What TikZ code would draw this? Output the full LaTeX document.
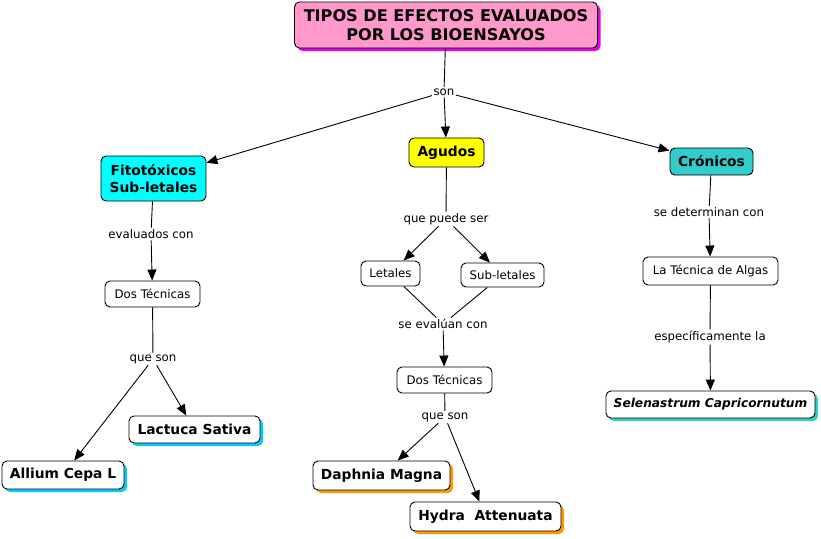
\documentclass[tikz,border=0pt]{standalone}
\usepackage{fontspec}
\setmainfont{DejaVu Sans}
\usetikzlibrary{arrows.meta,shadows}
\definecolor{pinkc}{RGB}{255,153,204}
\definecolor{magc}{RGB}{230,0,230}
\definecolor{yelc}{RGB}{255,255,0}
\definecolor{cyanc}{RGB}{0,255,255}
\definecolor{tealc}{RGB}{51,204,204}
\definecolor{skyc}{RGB}{0,204,255}
\definecolor{orc}{RGB}{255,153,0}
\tikzset{
  concept/.style={draw, rounded corners=5pt, line width=0.9pt, inner sep=0pt, align=center, fill=white},
  bigc/.style={concept, font=\fontsize{13.8}{16.5}\selectfont\bfseries},
  smallc/.style={concept, font=\fontsize{11.8}{14}\selectfont},
  link/.style={inner sep=1.5pt, font=\fontsize{11.8}{14}\selectfont},
  arr/.style={-{Triangle[length=11pt,width=9pt]}, line width=0.9pt},
  ln/.style={line width=0.9pt},
  shd/.style={general shadow={fill=#1, shadow xshift=3pt, shadow yshift=-3pt}}
}
\begin{document}
\begin{tikzpicture}[x=1pt,y=-1pt]
\useasboundingbox (0,0) rectangle (821,538);
% concepts
\node[concept, fill=pinkc, shd=magc, minimum width=303pt, minimum height=46pt, font=\fontsize{16.1}{19.5}\selectfont\bfseries] (title) at (446,25) {TIPOS DE EFECTOS EVALUADOS\\POR LOS BIOENSAYOS};
\node[bigc, fill=yelc, minimum width=75pt, minimum height=29pt] (agudos) at (446.5,152.5) {Agudos};
\node[bigc, fill=cyanc, minimum width=105pt, minimum height=45pt] (fito) at (153.5,178.5) {Fitotóxicos\\Sub-letales};
\node[bigc, fill=tealc, minimum width=83pt, minimum height=27pt] (cron) at (711.5,161.5) {Crónicos};
\node[smallc, minimum width=95pt, minimum height=26pt] (dosA) at (152.5,294) {Dos Técnicas};
\node[bigc, shd=skyc, minimum width=131pt, minimum height=27pt] (lact) at (194.5,429.5) {Lactuca Sativa};
\node[bigc, shd=skyc, minimum width=122pt, minimum height=28pt] (allium) at (63,475) {Allium Cepa L};
\node[smallc, minimum width=59pt, minimum height=25pt] (let) at (390.5,273.5) {Letales};
\node[smallc, minimum width=83pt, minimum height=24pt] (sublet) at (502.5,275) {Sub-letales};
\node[smallc, minimum width=95pt, minimum height=26pt] (dosB) at (444.5,380) {Dos Técnicas};
\node[bigc, shd=orc, minimum width=137pt, minimum height=29pt] (daph) at (381.5,475.5) {Daphnia Magna};
\node[bigc, shd=orc, minimum width=151pt, minimum height=29pt] (hydra) at (485.5,516.5) {Hydra\ \ Attenuata};
\node[smallc, minimum width=135pt, minimum height=28pt] (algas) at (710.5,271) {La Técnica de Algas};
\node[bigc, shd=tealc, minimum width=209pt, minimum height=27pt, font=\fontsize{12.2}{15}\selectfont\bfseries\itshape] (selen) at (710.5,404.5) {Selenastrum Capricornutum};
% link labels
\node[link] (son) at (444,92) {son};
\node[link] (evc) at (151,234) {evaluados con};
\node[link] (qsA) at (153,359) {que son};
\node[link] (qps) at (446,219) {que puede ser};
\node[link] (sev) at (443,324) {se evalúan con};
\node[link] (qsB) at (445,417) {que son};
\node[link] (sdc) at (709,212) {se determinan con};
\node[link] (esp) at (710,337) {específicamente la};
% connectors
\draw[ln] (title) -- (son);
\draw[arr] (son) -- (fito);
\draw[arr] (son) -- (agudos);
\draw[arr] (son) -- (cron);
\draw[ln] (fito) -- (evc);
\draw[arr] (evc) -- (dosA);
\draw[ln] (dosA) -- (qsA);
\draw[arr] (qsA) -- (allium);
\draw[arr] (qsA) -- (lact);
\draw[ln] (agudos) -- (qps);
\draw[arr] (qps) -- (let);
\draw[arr] (qps) -- (sublet);
\draw[ln] (let) -- (sev);
\draw[ln] (sublet) -- (sev);
\draw[arr] (sev) -- (dosB);
\draw[ln] (dosB) -- (qsB);
\draw[arr] (qsB) -- (daph);
\draw[arr] (qsB) -- (hydra);
\draw[ln] (cron) -- (sdc);
\draw[arr] (sdc) -- (algas);
\draw[ln] (algas) -- (esp);
\draw[arr] (esp) -- (selen);
\end{tikzpicture}
\end{document}
